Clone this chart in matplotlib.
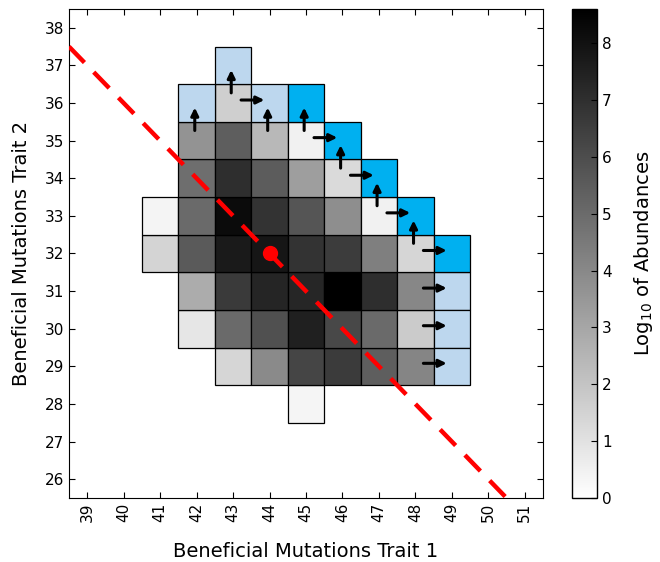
"""
Heatmap of log10 abundances over two traits, with escape arrows.
"""

import numpy as np
import matplotlib.pyplot as plt
from matplotlib.patches import Rectangle
from matplotlib.colors import Normalize
from matplotlib.cm import ScalarMappable

# grid axes
trait1 = [41, 42, 43, 44, 45, 46, 47, 48, 49]
trait2 = [28, 29, 30, 31, 32, 33, 34, 35, 36, 37]

# log10 abundances, one row per trait2 value (bottom to top), nan = empty
log_abund = [
    [np.nan, np.nan, np.nan, np.nan, 0.34, np.nan, np.nan, np.nan, np.nan],  # 28
    [np.nan, np.nan, 1.38, 3.95, 6.27, 6.61, 5.43, 4.11, np.nan],            # 29
    [np.nan, 0.84, 5.02, 5.90, 7.52, 6.17, 5.02, 1.75, np.nan],              # 30
    [np.nan, 2.80, 6.64, 7.35, 7.32, 8.60, 7.05, 4.05, np.nan],              # 31
    [1.45, 5.56, 7.72, 7.86, 6.88, 6.58, 4.32, 1.38, np.nan],                # 32
    [0.37, 5.02, 8.20, 6.88, 5.73, 3.81, 0.50, np.nan, np.nan],              # 33
    [np.nan, 4.89, 7.05, 5.50, 3.27, 1.25, np.nan, np.nan, np.nan],          # 34
    [np.nan, 3.64, 5.43, 2.39, 0.50, np.nan, np.nan, np.nan, np.nan],        # 35
    [np.nan, np.nan, 1.62, np.nan, np.nan, np.nan, np.nan, np.nan, np.nan],  # 36
    [np.nan, np.nan, np.nan, np.nan, np.nan, np.nan, np.nan, np.nan, np.nan],  # 37
]

# boundary cells (trait1, trait2)
light_blue_cells = [(43, 37), (42, 36), (44, 36), (49, 31), (49, 30), (49, 29)]
bright_blue_cells = [(45, 36), (46, 35), (47, 34), (48, 33), (49, 32)]

# arrows: source cell and direction
arrows_up = [(43, 36), (42, 35), (44, 35), (45, 35), (46, 34), (47, 33), (48, 32)]
arrows_right = [(43, 36), (45, 35), (46, 34), (47, 33), (48, 32), (48, 31),
                (48, 30), (48, 29)]

# iso-total line and start point
total_mutations = 76
start_point = (44, 32)

vmax = 8.6
cmap = plt.get_cmap("gray_r")
norm = Normalize(vmin=0, vmax=vmax)

fig = plt.figure(figsize=(6.6, 5.62), dpi=100)
ax = fig.add_axes([0.1045, 0.1139, 0.7182, 0.8701])
cax = fig.add_axes([0.8667, 0.1139, 0.0379, 0.8701])


def cell(x, y, color):
    ax.add_patch(Rectangle((x - 0.5, y - 0.5), 1, 1, facecolor=color,
                           edgecolor="black", linewidth=0.9, zorder=2))


for r, y in enumerate(trait2):
    for c, x in enumerate(trait1):
        v = log_abund[r][c]
        if not np.isnan(v):
            cell(x, y, cmap(norm(v)))
for (x, y) in light_blue_cells:
    cell(x, y, "#bdd7ee")
for (x, y) in bright_blue_cells:
    cell(x, y, "#00b0f0")

# arrows
aprops = dict(arrowstyle="-|>,head_length=0.45,head_width=0.22",
              color="black", lw=2.2, shrinkA=0, shrinkB=0)
for (i, j) in arrows_right:
    ax.annotate("", xy=(i + 0.86, j + 0.08), xytext=(i + 0.22, j + 0.08),
                arrowprops=aprops, zorder=4)
for (i, j) in arrows_up:
    ax.annotate("", xy=(i - 0.05, j + 0.88), xytext=(i - 0.05, j + 0.27),
                arrowprops=aprops, zorder=4)

ax.set_xlim(38.5, 51.5)
ax.set_ylim(25.5, 38.5)

# red dashed iso-line through the start point
lx = np.array(ax.get_xlim())
ax.plot(lx, total_mutations - lx, color="red", lw=3.2,
        linestyle=(0, (5, 3)), zorder=5)
ax.plot(*start_point, "o", color="red", ms=10, zorder=6)
ax.set_xlim(38.5, 51.5)
ax.set_ylim(25.5, 38.5)

ax.set_xticks(range(39, 52))
ax.set_yticks(range(26, 39))
ax.tick_params(direction="in", top=True, right=True, length=4,
               labelsize=11)
ax.tick_params(axis="x", labelrotation=90)
ax.set_xlabel("Beneficial Mutations Trait 1", fontsize=14, labelpad=14)
ax.set_ylabel("Beneficial Mutations Trait 2", fontsize=14, labelpad=10)

cb = fig.colorbar(ScalarMappable(norm=norm, cmap=cmap), cax=cax,
                  ticks=range(0, 9))
cb.ax.tick_params(direction="in", length=4, labelsize=11)
cb.outline.set_linewidth(1)
cb.set_label("Log$_{10}$ of Abundances", fontsize=14, labelpad=15)

plt.savefig("out.png", dpi=100)
plt.close(fig)
